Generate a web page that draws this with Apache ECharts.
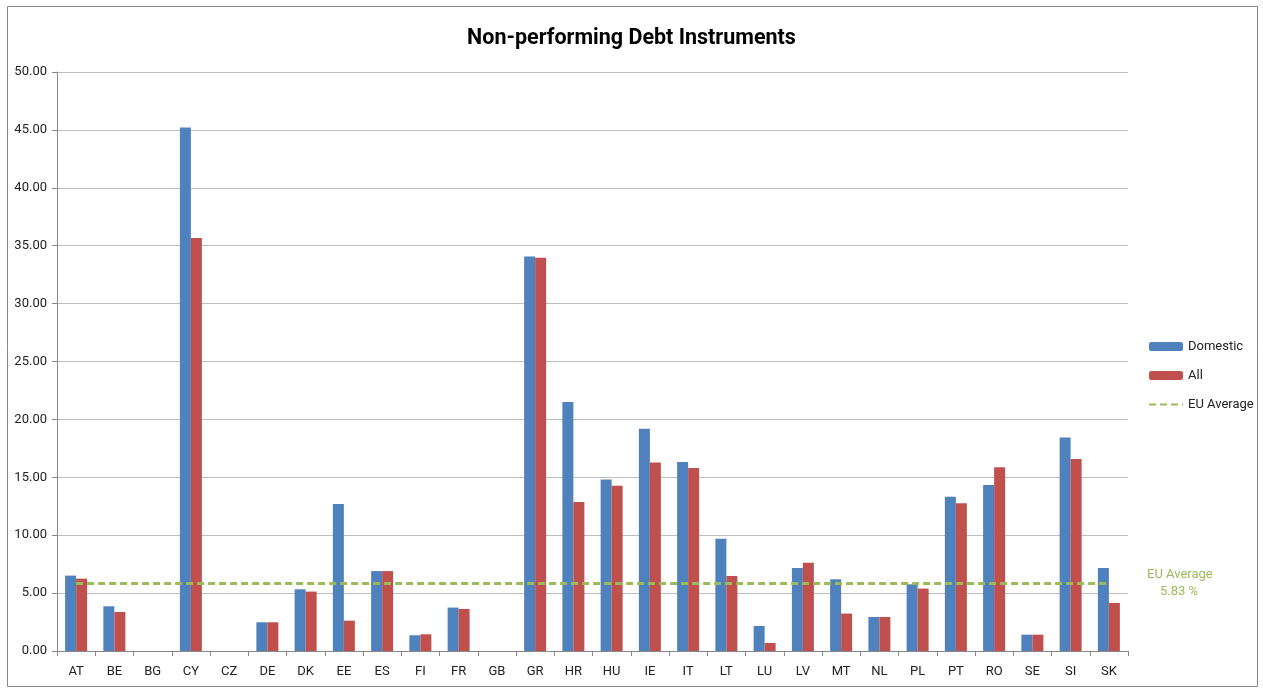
<!DOCTYPE html>
<html>
<head>
<meta charset="utf-8">
<title>Non-performing Debt Instruments</title>
<script src="https://cdn.jsdelivr.net/npm/echarts@6/dist/echarts.min.js"></script>
<style>
  html, body { margin: 0; padding: 0; background: #fff; }
  #chart { width: 1263px; height: 689px; }
</style>
</head>
<body>
<div id="chart"></div>
<script>
// data
const countries = ["AT", "BE", "BG", "CY", "CZ", "DE", "DK", "EE", "ES", "FI", "FR", "GB", "GR", "HR",
  "HU", "IE", "IT", "LT", "LU", "LV", "MT", "NL", "PL", "PT", "RO", "SE", "SI", "SK"];
const domestic = [6.51, 3.86, 0, 45.2, 0, 2.48, 5.33, 12.7, 6.9, 1.36, 3.75, 0, 34.06, 21.5,
  14.8, 19.2, 16.32, 9.7, 2.16, 7.17, 6.19, 2.94, 5.76, 13.33, 14.33, 1.41, 18.43, 7.17];
const all = [6.25, 3.37, 0, 35.67, 0, 2.48, 5.13, 2.62, 6.9, 1.44, 3.63, 0, 33.97, 12.87,
  14.28, 16.27, 15.8, 6.48, 0.69, 7.63, 3.23, 2.94, 5.39, 12.75, 15.86, 1.41, 16.58, 4.15];
const euAverage = 5.83;
const euLine = countries.map(() => euAverage);

const fontFamily = "Roboto, 'Open Sans', sans-serif";
const chart = echarts.init(document.getElementById("chart"));

chart.setOption({
  animation: false,
  textStyle: { fontFamily: fontFamily },
  title: {
    text: "Non-performing Debt Instruments",
    left: "center",
    top: 23,
    textStyle: { fontSize: 21.5, fontWeight: "bold", color: "#000", fontFamily: fontFamily },
  },
  legend: {
    orient: "vertical",
    left: 1143,
    top: 335,
    itemWidth: 34,
    itemHeight: 9,
    itemGap: 16,
    textStyle: { fontSize: 13, color: "#222", fontFamily: fontFamily },
    // hide the round marker so only the dashed line shows for EU Average
    data: ["Domestic", "All", { name: "EU Average", itemStyle: { opacity: 0 } }],
  },
  grid: { left: 57, right: 135, top: 72, bottom: 38 },
  xAxis: {
    type: "category",
    data: countries,
    axisLine: { lineStyle: { color: "#888" } },
    axisTick: { show: true, length: 5, lineStyle: { color: "#888" } },
    axisLabel: { color: "#222", fontSize: 13, margin: 14, interval: 0 },
  },
  yAxis: {
    type: "value",
    min: 0,
    max: 50,
    interval: 5,
    axisLine: { show: true, lineStyle: { color: "#888" } },
    axisTick: { show: true, length: 5, lineStyle: { color: "#888" } },
    axisLabel: { color: "#222", fontSize: 13, margin: 10, formatter: (v) => v.toFixed(2) },
    splitLine: { lineStyle: { color: "#BDBDBD" } },
  },
  series: [
    {
      name: "Domestic",
      type: "bar",
      data: domestic,
      barWidth: 11,
      barGap: "0%",
      itemStyle: { color: "#4F81BD" },
    },
    {
      name: "All",
      type: "bar",
      data: all,
      barWidth: 11,
      itemStyle: { color: "#C0504D" },
    },
    {
      name: "EU Average",
      type: "line",
      data: euLine,
      symbol: "none",
      z: 5,
      lineStyle: { color: "#9BBB59", width: 3, type: [7, 4] },
      itemStyle: { color: "#9BBB59" },
    },
  ],
  graphic: [
    {
      type: "rect",
      shape: { x: 7.5, y: 6.5, width: 1250, height: 680 },
      style: { fill: "none", stroke: "#888", lineWidth: 1 },
      silent: true,
    },
    {
      type: "text",
      left: 1147,
      top: 566,
      style: {
        text: "EU Average\n    " + euAverage.toFixed(2) + " %",
        fill: "#9BBB59",
        fontSize: 13,
        lineHeight: 17,
        fontFamily: fontFamily,
      },
    },
  ],
});
</script>
</body>
</html>
